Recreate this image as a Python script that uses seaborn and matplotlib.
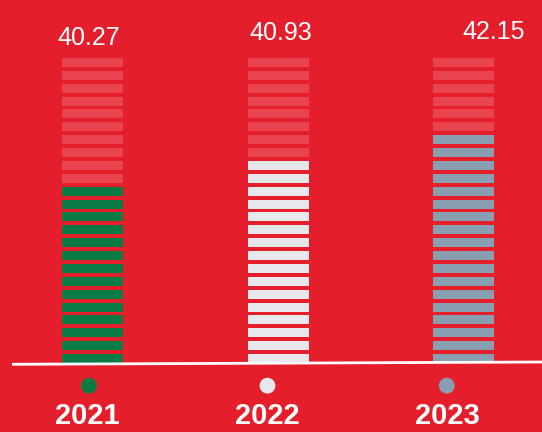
import numpy as np
import pandas as pd
import matplotlib
matplotlib.use("Agg")
import matplotlib.pyplot as plt
import seaborn as sns

# ---- data ----
years = ["2021", "2022", "2023"]
values = [40.27, 40.93, 42.15]
filled_stripes = [14, 16, 18]
total_stripes = 24
year_colors = ["#0B7B45", "#E6E8EB", "#889EB1"]

# ---- style ----
BG = "#E51E2C"
LIGHT = "#EA4350"
sns.set_theme(style="white", rc={"figure.facecolor": BG, "axes.facecolor": BG})
plt.rcParams["font.family"] = ["Liberation Sans", "DejaVu Sans"]

W, H = 542, 432
fig = plt.figure(figsize=(W / 100, H / 100), dpi=100)
ax = fig.add_axes([0, 0, 1, 1])

# pixel layout mapping
PX_UNIT_X = 185.5          # px per category
X0_PX = 92.5               # px of first bar centre
PITCH = 12.87              # px per stripe
BASE_PX = 363.0            # px (from top) of stripe baseline
ax.set_xlim(-X0_PX / PX_UNIT_X, (W - X0_PX) / PX_UNIT_X)
ax.set_ylim(-(H - BASE_PX) / PITCH, BASE_PX / PITCH)

def px_dx(dpx):
    return dpx / PX_UNIT_X

# stripes table
rows = []
for i, (yr, nf, col) in enumerate(zip(years, filled_stripes, year_colors)):
    for k in range(total_stripes):
        rows.append({"pos": i, "year": yr, "level": k,
                     "color": col if k < nf else LIGHT})
df = pd.DataFrame(rows)

bar_w = 61 / PX_UNIT_X
stripe_h = 9 / PITCH
ax.bar(df["pos"], stripe_h, bottom=df["level"], width=bar_w,
       color=df["color"], linewidth=0)

# baseline (slightly tilted)
ax.plot([px_dx(12 - X0_PX), px_dx(W - X0_PX)], [-1.3 / PITCH, 1.0 / PITCH],
        color="white", lw=2, solid_capstyle="butt", zorder=3)

# dots and year labels
dot_dx = [-3.5, -10.5, -16.8]
year_dx = [-5, -10.5, -16.5]
dots = pd.DataFrame({"pos": [i + px_dx(d) for i, d in enumerate(dot_dx)],
                     "y": [-(385.7 - BASE_PX) / PITCH] * 3,
                     "year": years})
sns.scatterplot(data=dots, x="pos", y="y", hue="year", palette=year_colors,
                s=130, linewidth=0, legend=False, ax=ax, zorder=4)
for i, (yr, d) in enumerate(zip(years, year_dx)):
    ax.text(i + px_dx(d), -(416 - BASE_PX) / PITCH, yr, color="white",
            fontsize=21, fontweight="bold", ha="center", va="center")

# value labels
val_dx = [-3.5, 3.0, 30.5]
val_ypx = [38, 33, 31.7]
for i, (v, d, ypx) in enumerate(zip(values, val_dx, val_ypx)):
    ax.text(i + px_dx(d), (BASE_PX - ypx) / PITCH, f"{v:.2f}", color="white",
            fontsize=18, ha="center", va="center")

ax.set_axis_off()
fig.savefig("out.png", dpi=100, facecolor=BG)
